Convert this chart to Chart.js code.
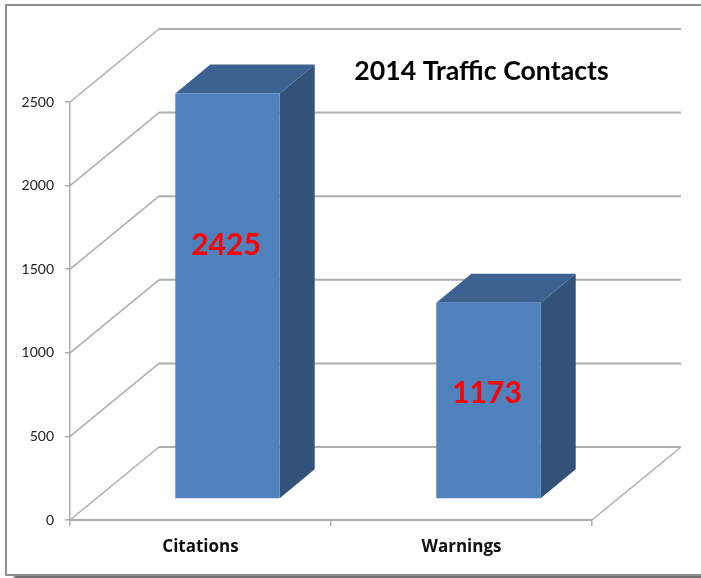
<!DOCTYPE html>
<html>
<head>
<meta charset="utf-8">
<title>2014 Traffic Contacts</title>
<script src="https://cdn.jsdelivr.net/npm/chart.js@4/dist/chart.umd.min.js"></script>
<style>
    html, body { margin: 0; padding: 0; background: #fff; overflow: hidden; }
    #wrap { position: relative; width: 701px; height: 578px; overflow: hidden; }
    #frame {
        position: absolute; left: 5px; top: 4px; width: 760px; height: 568px;
        border: 2px solid #8e8e8e; background: #fff;
        box-shadow: 9px 3px 2px #6f6f6f;
    }
    #chart { position: absolute; left: 0; top: 0; }
</style>
</head>
<body>
<div id="wrap">
    <div id="frame"></div>
    <canvas id="chart" width="701" height="578"></canvas>
</div>
<script>
const categories = ['Citations', 'Warnings'];
const contacts = [2425, 1173];
const yTicks = [0, 500, 1000, 1500, 2000, 2500];

const chartTitle = '2014 Traffic Contacts';

// 3D look: wall depth, how far the bars stand in front of the wall, bar depth
const WALL_DX = 89, WALL_DY = 73;
const BAR_SHIFT_X = 27, BAR_SHIFT_Y = 21;
const BAR_DX = 35, BAR_DY = 29;
// the value labels were placed by hand in the original, px above the bar middle
const labelLift = [51, 7];

const GRID = '#adadad';
const FONT = 'Lato, "Open Sans", sans-serif';

const fake3d = {
    id: 'fake3d',
    beforeDatasetsDraw(chart) {
        const { ctx, scales: { x, y } } = chart;
        ctx.save();
        ctx.strokeStyle = GRID;
        // wall lines + diagonals on the left side
        yTicks.forEach((v) => {
            const py = y.getPixelForValue(v);
            ctx.lineWidth = 1.5;
            ctx.beginPath();
            ctx.moveTo(x.left, py);
            ctx.lineTo(x.left + WALL_DX, py - WALL_DY);
            ctx.stroke();
            ctx.lineWidth = 2;
            ctx.beginPath();
            ctx.moveTo(x.left + WALL_DX, py - WALL_DY);
            ctx.lineTo(x.right + WALL_DX, py - WALL_DY);
            ctx.stroke();
        });
        // right edge of the floor
        const py0 = y.getPixelForValue(0);
        ctx.lineWidth = 1.5;
        ctx.beginPath();
        ctx.moveTo(x.right, py0);
        ctx.lineTo(x.right + WALL_DX, py0 - WALL_DY);
        ctx.stroke();
        ctx.restore();

        // bar sides and tops, then shift for the front faces
        const bars = chart.getDatasetMeta(0).data;
        ctx.save();
        ctx.translate(BAR_SHIFT_X, -BAR_SHIFT_Y);
        bars.forEach((bar) => {
            const l = bar.x - bar.width / 2, r = bar.x + bar.width / 2;
            ctx.fillStyle = '#3c6291';
            ctx.beginPath();
            ctx.moveTo(l, bar.y);
            ctx.lineTo(l + BAR_DX, bar.y - BAR_DY);
            ctx.lineTo(r + BAR_DX, bar.y - BAR_DY);
            ctx.lineTo(r, bar.y);
            ctx.closePath();
            ctx.fill();
            ctx.fillStyle = '#325279';
            ctx.beginPath();
            ctx.moveTo(r, bar.y);
            ctx.lineTo(r + BAR_DX, bar.y - BAR_DY);
            ctx.lineTo(r + BAR_DX, bar.base - BAR_DY);
            ctx.lineTo(r, bar.base);
            ctx.closePath();
            ctx.fill();
        });
    },
    afterDatasetsDraw(chart) {
        const { ctx } = chart;
        const bars = chart.getDatasetMeta(0).data;
        // still shifted here
        ctx.fillStyle = '#ff0000';
        ctx.font = 'bold 30px ' + FONT;
        ctx.textAlign = 'center';
        ctx.textBaseline = 'middle';
        bars.forEach((bar, i) => {
            ctx.fillText(String(contacts[i]), bar.x - 1.5, (bar.y + bar.base) / 2 - labelLift[i]);
        });
        ctx.restore();

        ctx.save();
        ctx.fillStyle = '#000';
        ctx.font = 'bold 26.7px ' + FONT;
        ctx.textAlign = 'center';
        ctx.textBaseline = 'middle';
        ctx.fillText(chartTitle, 481.5, 71.5);
        ctx.restore();
    }
};

new Chart('chart', {
    type: 'bar',
    data: {
        labels: categories,
        datasets: [{
            data: contacts,
            backgroundColor: '#4f81bd',
            borderWidth: 0,
            barPercentage: 0.4,
            categoryPercentage: 1,
            clip: false
        }]
    },
    options: {
        responsive: false,
        animation: false,
        layout: { padding: { left: 0, top: 102, right: 109, bottom: 0 } },
        plugins: {
            legend: { display: false },
            tooltip: { enabled: false }
        },
        scales: {
            x: {
                afterFit: (scale) => { scale.height = 58; },
                grid: { offset: true, drawOnChartArea: false, color: GRID, lineWidth: 1.5, tickLength: 6 },
                border: { color: GRID, width: 2 },
                ticks: {
                    color: '#111',
                    padding: 11,
                    font: { family: '"Open Sans", Lato, sans-serif', size: 17, weight: 'bold' }
                }
            },
            y: {
                min: 0,
                max: 2500,
                afterFit: (scale) => { scale.width = 70; },
                afterBuildTicks: (scale) => { scale.ticks = yTicks.map((value) => ({ value })); },
                grid: { drawOnChartArea: false, color: GRID, lineWidth: 1.5, tickLength: 5 },
                border: { color: GRID, width: 1.5 },
                ticks: {
                    color: '#222',
                    padding: 11,
                    callback: (value) => String(value),
                    font: { family: FONT, size: 14 }
                }
            }
        }
    },
    plugins: [fake3d]
});
</script>
</body>
</html>
